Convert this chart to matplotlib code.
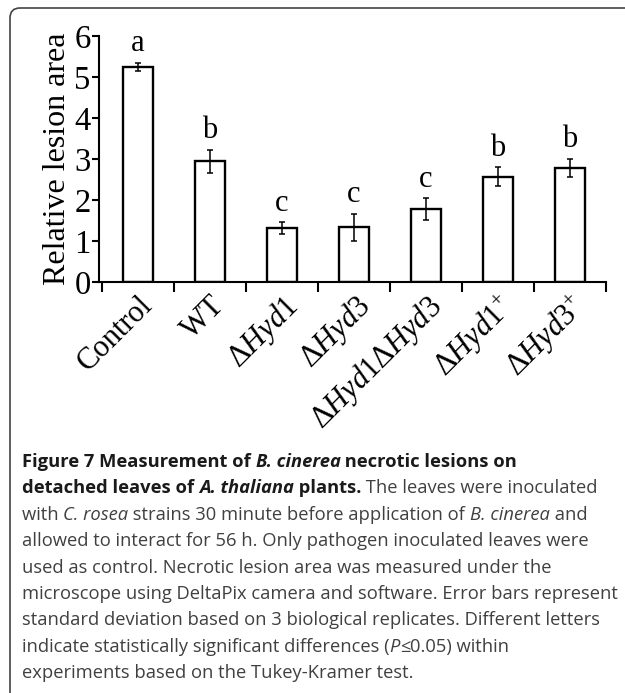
import matplotlib
matplotlib.use("Agg")
import matplotlib.pyplot as plt
from matplotlib.patches import FancyBboxPatch
from matplotlib.transforms import IdentityTransform

# data
strains = ['Control', 'WT', r'$\Delta\mathit{Hyd1}$', r'$\Delta\mathit{Hyd3}$',
           r'$\Delta\mathit{Hyd1}\Delta\mathit{Hyd3}$',
           r'$\Delta\mathit{Hyd1}^{+}$', r'$\Delta\mathit{Hyd3}^{+}$']
lesion = [5.25, 2.95, 1.32, 1.34, 1.78, 2.57, 2.79]
sd = [0.10, 0.28, 0.15, 0.33, 0.27, 0.24, 0.22]
groups = ['a', 'b', 'c', 'c', 'c', 'b', 'b']
yticks = [0, 1, 2, 3, 4, 5, 6]

caption = [
    [("Figure 7 Measurement of ", "bold", "normal"), ("B. cinerea", "bold", "italic"),
     (" necrotic lesions on", "bold", "normal")],
    [("detached leaves of ", "bold", "normal"), ("A. thaliana", "bold", "italic"),
     (" plants.", "bold", "normal"), (" The leaves were inoculated", "normal", "normal")],
    [("with ", "normal", "normal"), ("C. rosea", "normal", "italic"),
     (" strains 30 minute before application of ", "normal", "normal"),
     ("B. cinerea", "normal", "italic"), (" and", "normal", "normal")],
    [("allowed to interact for 56 h. Only pathogen inoculated leaves were", "normal", "normal")],
    [("used as control. Necrotic lesion area was measured under the", "normal", "normal")],
    [("microscope using DeltaPix camera and software. Error bars represent", "normal", "normal")],
    [("standard deviation based on 3 biological replicates. Different letters", "normal", "normal")],
    [("indicate statistically significant differences (", "normal", "normal"),
     ("P", "normal", "italic"), ("\u2264", "normal", "normal"), ("0.05) within", "normal", "normal")],
    [("experiments based on the Tukey-Kramer test.", "normal", "normal")],
]

plt.rcParams['font.family'] = ['Liberation Serif', 'DejaVu Serif']
plt.rcParams['mathtext.fontset'] = 'custom'
plt.rcParams['mathtext.rm'] = 'Liberation Serif'
plt.rcParams['mathtext.it'] = 'Liberation Serif:italic'

W, H = 625, 693
fig = plt.figure(figsize=(W / 100, H / 100), dpi=100)
ax = fig.add_axes([99 / W, 1 - 282 / H, (606 - 99) / W, (282 - 36) / H])

x = list(range(len(strains)))
ax.bar(x, lesion, width=0.42, color='white', edgecolor='black', linewidth=1.7, zorder=2)
ax.errorbar(x, lesion, yerr=sd, fmt='none', ecolor='black', elinewidth=1.1,
            capsize=2.5, capthick=1.1, zorder=3)
for xi, v, e, g in zip(x, lesion, sd, groups):
    ax.annotate(g, (xi, v + e), xytext=(0, 3), textcoords='offset points',
                ha='center', va='bottom', fontsize=22)

ax.set_xlim(-0.54, 6.5)
ax.set_ylim(0, 6)
ax.set_yticks(yticks)
ax.tick_params(axis='y', labelsize=23.5, length=5, width=1.5, pad=1)
ax.set_xticks([i - 0.5 for i in range(len(strains) + 1)])
ax.set_xticklabels([])
ax.tick_params(axis='x', length=7, width=1.5)
ax.set_xticks(x, minor=True)
ax.set_xticklabels(strains, minor=True, rotation=45, ha='right', va='top',
                   rotation_mode='anchor', fontsize=22)
ax.tick_params(axis='x', which='minor', length=0, pad=6)
for s in ['top', 'right']:
    ax.spines[s].set_visible(False)
for s in ['left', 'bottom']:
    ax.spines[s].set_linewidth(1.5)
ax.set_ylabel('Relative lesion area', fontsize=23, labelpad=2)

# frame round the figure, open at right and bottom
frame = FancyBboxPatch((10, -20), 700, H - 8 + 20, boxstyle='round,pad=0,rounding_size=10',
                       transform=IdentityTransform(), fill=False, edgecolor='#444444',
                       linewidth=1.2)
fig.patches.append(frame)

# caption
fig.canvas.draw()
r = fig.canvas.get_renderer()
y0, dy = H - 462, 26.4
for i, line in enumerate(caption):
    xp = 22
    for txt, wt, st in line:
        c = '#1a1a1a' if wt == 'bold' else '#404040'
        t = fig.text(xp, y0 - i * dy, txt, transform=IdentityTransform(), fontsize=13.2,
                     family=['Open Sans', 'DejaVu Sans'], weight=wt, style=st,
                     color=c, va='center', ha='left')
        xp = t.get_window_extent(r).x1

fig.savefig('out.png', dpi=100)
